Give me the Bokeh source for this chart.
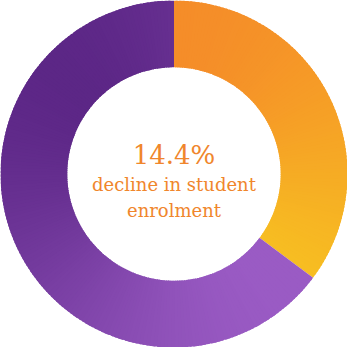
import numpy as np
from bokeh.plotting import figure
from bokeh.models import ColumnDataSource
from bokeh.core.properties import value
from bokeh.embed import file_html
from bokeh.resources import INLINE

# ---- data ----
segments = ["decline", "rest"]
shares = [35.2, 64.8]
headline = "14.4%"
caption_lines = ["decline in student", "enrolment"]

# ---- styling ----
orange_stops = ("#F5862A", "#F7C221")   # top -> bottom (vertical gradient)
purple_stops = ("#45136F", "#AC6AD6")   # top-left -> bottom-right (diagonal)
text_color = "#F0862C"
R_OUT, R_IN = 1.0, 0.615

def hex2rgb(h):
    h = h.lstrip("#")
    return np.array([int(h[i:i + 2], 16) for i in (0, 2, 4)], dtype=float)

def mix(stops, t):
    a, b = hex2rgb(stops[0]), hex2rgb(stops[1])
    c = a + (b - a) * np.clip(t, 0, 1)
    return "#%02x%02x%02x" % tuple(int(round(v)) for v in c)

p = figure(width=347, height=347, x_range=(-1, 1), y_range=(-1, 1),
           output_backend="svg", toolbar_location=None, min_border=0)
p.axis.visible = False
p.grid.visible = False
p.outline_line_color = None
p.background_fill_color = "white"
p.border_fill_color = "white"

total = sum(shares)
fracs = [s / total for s in shares]
start = np.pi / 2
bounds = []
for f in fracs:
    end = start - f * 2 * np.pi
    bounds.append((end, start))
    start = end

rows = dict(sa=[], ea=[], col=[])
NA = 300
rm = 0.5 * (R_IN + R_OUT)
for idx, (a0, a1) in enumerate(bounds):
    n = max(8, int(NA * (a1 - a0) / (2 * np.pi)))
    angs = np.linspace(a0, a1, n + 1)
    tt = np.linspace(a0, a1, 400)
    xs = np.concatenate([R_OUT * np.cos(tt), R_IN * np.cos(tt)])
    ys = np.concatenate([R_OUT * np.sin(tt), R_IN * np.sin(tt)])
    for i in range(n):
        am = 0.5 * (angs[i] + angs[i + 1])
        cx, cy = rm * np.cos(am), rm * np.sin(am)
        if idx == 0:
            t = (ys.max() - cy) / (ys.max() - ys.min())
            col = mix(orange_stops, t)
        else:
            t = ((cx - xs.min()) / (xs.max() - xs.min()) + (ys.max() - cy) / (ys.max() - ys.min())) / 2
            col = mix(purple_stops, t)
        rows["sa"].append(angs[i])
        rows["ea"].append(angs[i + 1] + (0.012 if i < n - 1 else 0))
        rows["col"].append(col)

src = ColumnDataSource(rows)
p.annular_wedge(x=0, y=0, inner_radius=R_IN, outer_radius=R_OUT,
                start_angle="sa", end_angle="ea", fill_color="col",
                line_color=None, source=src)

p.text(x=[0], y=[0.107], text=[headline], text_align="center",
       text_baseline="alphabetic", text_color=text_color,
       text_font=value("DejaVu Serif"), text_font_size="26px")
p.text(x=[0, 0], y=[-0.06, -0.21], text=caption_lines, text_align="center",
       text_baseline="alphabetic", text_color=text_color,
       text_font=value("DejaVu Serif"), text_font_size="18px")

open("out.html", "w").write(file_html(p, INLINE))
